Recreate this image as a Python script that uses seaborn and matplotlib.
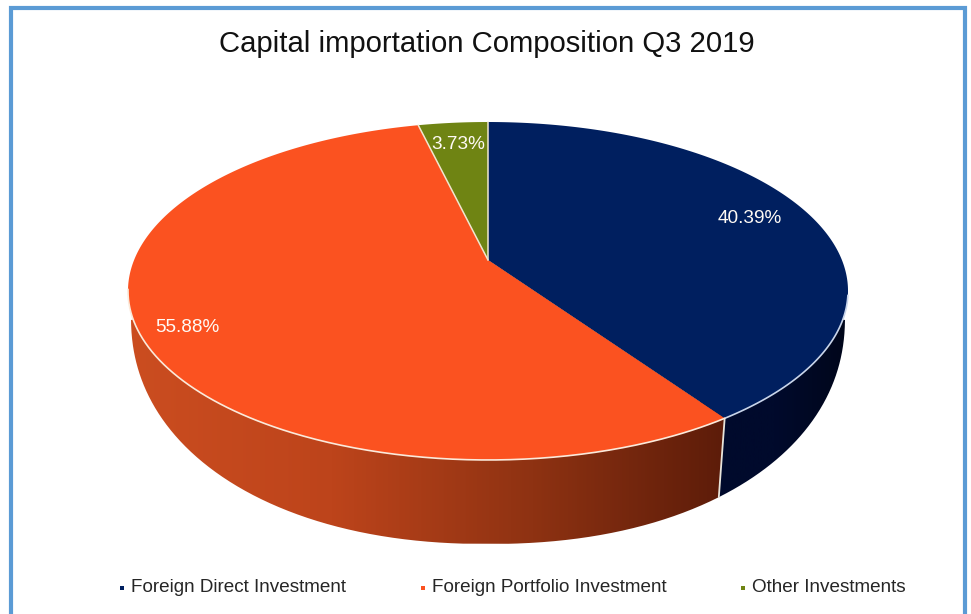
import numpy as np
import pandas as pd
import matplotlib
matplotlib.use("Agg")
import matplotlib.pyplot as plt
from matplotlib.colors import LinearSegmentedColormap
from matplotlib.patches import PathPatch
from matplotlib.path import Path
import seaborn as sns

categories = ["Foreign Direct Investment", "Foreign Portfolio Investment", "Other Investments"]
shares = [40.39, 55.88, 3.73]
title = "Capital importation Composition Q3 2019"

sns.set_theme(style="white")
plt.rcParams["font.family"] = ["Liberation Sans", "DejaVu Sans"]
palette = sns.color_palette(["#001f5f", "#fb5220", "#6f8413"])

df = pd.DataFrame({"category": categories, "share": shares})
df["end"] = df["share"].cumsum() / df["share"].sum() * 2 * np.pi
df["start"] = df["end"].shift(fill_value=0)

# perspective of the tilted disc, fitted on the picture (pixels)
CX, CY = 488, 260
BX, BY, C = 353.9, 163.3, 0.1834


def top_xy(theta, r=1.0):
    u, v = r * np.sin(theta), r * np.cos(theta)
    w = 1 + C * v
    return CX + BX * u / w, CY - BY * v / w


def low_xy(theta):
    # lower outline of the wall is a superellipse, not a clean ellipse
    _, y_top = top_xy(theta)
    y = 320 + 1.119 * (y_top - CY)
    t = np.clip((y - 317) / 227, 0, 1)
    x = CX + 357 * np.sign(np.sin(theta)) * (1 - t ** 2.15) ** (1 / 2.15)
    return x, y


fig = plt.figure(figsize=(9.71, 6.14), dpi=100)
ax = fig.add_axes([0, 0, 1, 1])
ax.set_xlim(0, 971)
ax.set_ylim(614, 0)
ax.axis("off")

# side walls, gradient clipped to each slice
side_maps = [
    LinearSegmentedColormap.from_list("navy", ["#000a2c", "#000a2c", "#00061a"]),
    LinearSegmentedColormap.from_list("orange", ["#cb4d20", "#bd441b", "#8e3212", "#5a1b09"]),
]
gradient = np.linspace(0, 1, 256).reshape(1, -1)
extents = [(700, 850), (130, 735)]
for i in range(2):
    row = df.iloc[i]
    th = np.linspace(max(row["start"], np.pi / 2), min(row["end"], 3 * np.pi / 2), 300)
    lx, ly = low_xy(th)
    if i == 0:
        tx, ty = top_xy(row["end"])
        verts = [(CX, CY)] + list(zip(lx, ly)) + [(tx, ty), (CX, CY)]
    else:
        tx, ty = top_xy(row["start"])
        verts = [(CX, CY), (tx, ty)] + list(zip(lx, ly)) + [(CX, CY)]
    patch = PathPatch(Path(verts), facecolor="none", edgecolor="none", transform=ax.transData)
    ax.add_patch(patch)
    im = ax.imshow(gradient, cmap=side_maps[i], aspect="auto", zorder=1,
                   extent=(extents[i][0], extents[i][1], 560, 100))
    im.set_clip_path(patch)
ax.set_xlim(0, 971)
ax.set_ylim(614, 0)

# seam between the two visible walls
theta_seam = df["end"].iloc[0]
sx0, sy0 = top_xy(theta_seam)
sx1, sy1 = low_xy(theta_seam)
ax.plot([sx0, sx1], [sy0, sy1], color="#e8e4da", lw=1.3, zorder=2)

# top face
for i, row in df.iterrows():
    th = np.linspace(row["start"], row["end"], 300)
    x, y = top_xy(th)
    ax.fill(np.r_[CX, x], np.r_[CY, y], color=palette[i], lw=0, zorder=3)

# light edges: only the front rim and the lines round the small slice
th = np.linspace(np.radians(102), theta_seam, 120)
ax.plot(*top_xy(th), color="#c9d5ea", lw=1.2, zorder=4)
th = np.linspace(theta_seam, np.radians(260), 240)
ax.plot(*top_xy(th), color="#fbeadb", lw=1.2, zorder=4)
for theta in [0.0, df["start"].iloc[2]]:
    x, y = top_xy(theta)
    ax.plot([CX, x], [CY, y], color="#f0e6cf", lw=1.1, zorder=4)

label_r = [0.80, 0.87, 0.83]
label_dx = [3, 0, 0]
label_dy = [-4, 6, 1]
for i, row in df.iterrows():
    mid = (row["start"] + row["end"]) / 2
    x, y = top_xy(mid, label_r[i])
    ax.text(x + label_dx[i], y + label_dy[i], f"{row['share']:.2f}%", color="#fffaf5",
            fontsize=13.7, ha="center", va="center", zorder=5)

ax.text(486.5, 44, title, fontsize=21.1, color="#111111", ha="center", va="center")

legend_x = [131, 432, 752]
for i, name in enumerate(categories):
    ax.scatter(legend_x[i] - 9, 587.5, marker="s", s=11, color=palette[i], lw=0)
    ax.text(legend_x[i], 588, name, fontsize=13.55, color="#262626", ha="left", va="center")

# blue frame, open at the bottom
ax.plot([11, 11, 965, 965], [614, 8, 8, 614], color="#5b9bd5", lw=3, solid_joinstyle="miter",
        solid_capstyle="butt")

fig.savefig("out.png", dpi=100)
